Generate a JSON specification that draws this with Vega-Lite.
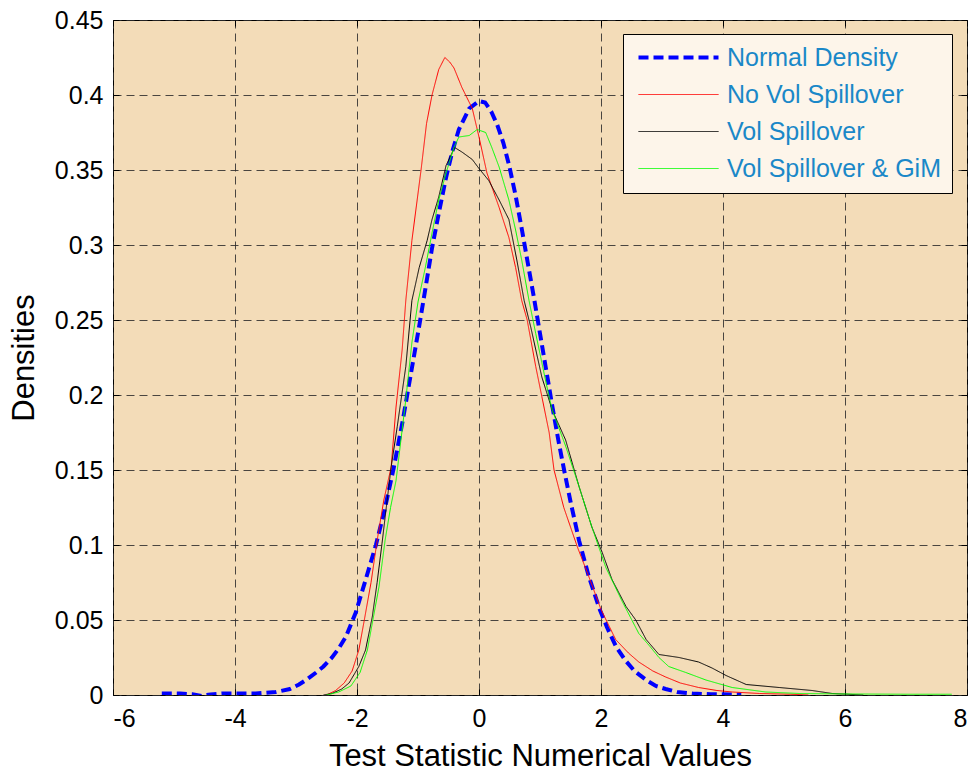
{
  "$schema": "https://vega.github.io/schema/vega-lite/v6.json",
  "width": 854,
  "height": 675,
  "autosize": {"type": "none"},
  "padding": {"left": 113, "top": 20, "right": 13, "bottom": 76},
  "background": "#ffffff",
  "title": {
    "text": "Bidirectional Truncated Hong Test Empirical Distribution (H3), S(300)",
    "fontSize": 31,
    "font": "Liberation Sans",
    "fontWeight": "normal",
    "color": "#000000",
    "anchor": "middle",
    "frame": "group",
    "baseline": "alphabetic",
    "offset": 0,
    "dy": 13,
    "zindex": 1
  },
  "config": {
    "font": "Liberation Sans",
    "view": {"fill": "#f3dcb8", "stroke": "#000000", "strokeWidth": 1},
    "axis": {
      "labelFont": "Liberation Sans",
      "labelFontSize": 25,
      "labelColor": "#000000",
      "titleFont": "Liberation Sans",
      "titleFontSize": 31,
      "titleFontWeight": "normal",
      "titleColor": "#000000",
      "domain": false,
      "tickColor": "#000000",
      "tickSize": -6,
      "grid": true,
      "gridColor": "#2a2a2a",
      "gridOpacity": 0.85,
      "gridDash": [8, 5],
      "gridWidth": 1
    }
  },
  "datasets": {
    "curves": [
      {"series": "Normal Density", "value": -5.2, "density": 0.001},
      {"series": "Normal Density", "value": -4.9, "density": 0.001},
      {"series": "Normal Density", "value": -4.7, "density": 0.0005},
      {"series": "Normal Density", "value": -4.55, "density": -0.0006},
      {"series": "Normal Density", "value": -4.4, "density": 0.0004},
      {"series": "Normal Density", "value": -4.2, "density": 0.001},
      {"series": "Normal Density", "value": -3.9, "density": 0.001},
      {"series": "Normal Density", "value": -3.66, "density": 0.001},
      {"series": "Normal Density", "value": -3.33, "density": 0.002},
      {"series": "Normal Density", "value": -3.1, "density": 0.004},
      {"series": "Normal Density", "value": -2.95, "density": 0.007},
      {"series": "Normal Density", "value": -2.8, "density": 0.011},
      {"series": "Normal Density", "value": -2.67, "density": 0.015},
      {"series": "Normal Density", "value": -2.55, "density": 0.019},
      {"series": "Normal Density", "value": -2.41, "density": 0.025},
      {"series": "Normal Density", "value": -2.3, "density": 0.031},
      {"series": "Normal Density", "value": -2.18, "density": 0.039},
      {"series": "Normal Density", "value": -2.02, "density": 0.055},
      {"series": "Normal Density", "value": -1.85, "density": 0.078},
      {"series": "Normal Density", "value": -1.69, "density": 0.1},
      {"series": "Normal Density", "value": -1.55, "density": 0.123},
      {"series": "Normal Density", "value": -1.4, "density": 0.151},
      {"series": "Normal Density", "value": -1.25, "density": 0.183},
      {"series": "Normal Density", "value": -1.1, "density": 0.218},
      {"series": "Normal Density", "value": -0.98, "density": 0.246},
      {"series": "Normal Density", "value": -0.85, "density": 0.278},
      {"series": "Normal Density", "value": -0.77, "density": 0.298},
      {"series": "Normal Density", "value": -0.66, "density": 0.321},
      {"series": "Normal Density", "value": -0.54, "density": 0.345},
      {"series": "Normal Density", "value": -0.44, "density": 0.362},
      {"series": "Normal Density", "value": -0.33, "density": 0.377},
      {"series": "Normal Density", "value": -0.16, "density": 0.391},
      {"series": "Normal Density", "value": 0.0, "density": 0.396},
      {"series": "Normal Density", "value": 0.1, "density": 0.395},
      {"series": "Normal Density", "value": 0.2, "density": 0.389},
      {"series": "Normal Density", "value": 0.3, "density": 0.38},
      {"series": "Normal Density", "value": 0.4, "density": 0.368},
      {"series": "Normal Density", "value": 0.5, "density": 0.352},
      {"series": "Normal Density", "value": 0.6, "density": 0.333},
      {"series": "Normal Density", "value": 0.7, "density": 0.311},
      {"series": "Normal Density", "value": 0.8, "density": 0.288},
      {"series": "Normal Density", "value": 0.9, "density": 0.265},
      {"series": "Normal Density", "value": 1.0, "density": 0.241},
      {"series": "Normal Density", "value": 1.1, "density": 0.217},
      {"series": "Normal Density", "value": 1.2, "density": 0.193},
      {"series": "Normal Density", "value": 1.3, "density": 0.17},
      {"series": "Normal Density", "value": 1.4, "density": 0.149},
      {"series": "Normal Density", "value": 1.5, "density": 0.129},
      {"series": "Normal Density", "value": 1.64, "density": 0.103},
      {"series": "Normal Density", "value": 1.8, "density": 0.079},
      {"series": "Normal Density", "value": 1.97, "density": 0.058},
      {"series": "Normal Density", "value": 2.1, "density": 0.045},
      {"series": "Normal Density", "value": 2.25, "density": 0.032},
      {"series": "Normal Density", "value": 2.4, "density": 0.023},
      {"series": "Normal Density", "value": 2.55, "density": 0.016},
      {"series": "Normal Density", "value": 2.74, "density": 0.01},
      {"series": "Normal Density", "value": 2.9, "density": 0.006},
      {"series": "Normal Density", "value": 3.06, "density": 0.004},
      {"series": "Normal Density", "value": 3.25, "density": 0.002},
      {"series": "Normal Density", "value": 3.5, "density": 0.001},
      {"series": "Normal Density", "value": 3.8, "density": 0.0005},
      {"series": "Normal Density", "value": 4.3, "density": 0.0003},

      {"series": "No Vol Spillover", "value": -2.5, "density": 0.0},
      {"series": "No Vol Spillover", "value": -2.35, "density": 0.003},
      {"series": "No Vol Spillover", "value": -2.21, "density": 0.008},
      {"series": "No Vol Spillover", "value": -2.08, "density": 0.016},
      {"series": "No Vol Spillover", "value": -1.97, "density": 0.03},
      {"series": "No Vol Spillover", "value": -1.88, "density": 0.05},
      {"series": "No Vol Spillover", "value": -1.77, "density": 0.075},
      {"series": "No Vol Spillover", "value": -1.67, "density": 0.103},
      {"series": "No Vol Spillover", "value": -1.56, "density": 0.13},
      {"series": "No Vol Spillover", "value": -1.44, "density": 0.152},
      {"series": "No Vol Spillover", "value": -1.36, "density": 0.192},
      {"series": "No Vol Spillover", "value": -1.26, "density": 0.23},
      {"series": "No Vol Spillover", "value": -1.2, "density": 0.263},
      {"series": "No Vol Spillover", "value": -1.1, "density": 0.303},
      {"series": "No Vol Spillover", "value": -0.95, "density": 0.35},
      {"series": "No Vol Spillover", "value": -0.86, "density": 0.381},
      {"series": "No Vol Spillover", "value": -0.77, "density": 0.4},
      {"series": "No Vol Spillover", "value": -0.66, "density": 0.417},
      {"series": "No Vol Spillover", "value": -0.56, "density": 0.425},
      {"series": "No Vol Spillover", "value": -0.48, "density": 0.422},
      {"series": "No Vol Spillover", "value": -0.41, "density": 0.418},
      {"series": "No Vol Spillover", "value": -0.28, "density": 0.405},
      {"series": "No Vol Spillover", "value": -0.11, "density": 0.391},
      {"series": "No Vol Spillover", "value": 0.0, "density": 0.372},
      {"series": "No Vol Spillover", "value": 0.13, "density": 0.348},
      {"series": "No Vol Spillover", "value": 0.33, "density": 0.325},
      {"series": "No Vol Spillover", "value": 0.49, "density": 0.305},
      {"series": "No Vol Spillover", "value": 0.6, "density": 0.285},
      {"series": "No Vol Spillover", "value": 0.7, "density": 0.263},
      {"series": "No Vol Spillover", "value": 0.79, "density": 0.25},
      {"series": "No Vol Spillover", "value": 0.93, "density": 0.219},
      {"series": "No Vol Spillover", "value": 1.03, "density": 0.199},
      {"series": "No Vol Spillover", "value": 1.15, "density": 0.175},
      {"series": "No Vol Spillover", "value": 1.23, "density": 0.15},
      {"series": "No Vol Spillover", "value": 1.39, "density": 0.125},
      {"series": "No Vol Spillover", "value": 1.61, "density": 0.099},
      {"series": "No Vol Spillover", "value": 1.8, "density": 0.079},
      {"series": "No Vol Spillover", "value": 2.0, "density": 0.057},
      {"series": "No Vol Spillover", "value": 2.24, "density": 0.037},
      {"series": "No Vol Spillover", "value": 2.45, "density": 0.028},
      {"series": "No Vol Spillover", "value": 2.62, "density": 0.022},
      {"series": "No Vol Spillover", "value": 2.85, "density": 0.016},
      {"series": "No Vol Spillover", "value": 3.06, "density": 0.012},
      {"series": "No Vol Spillover", "value": 3.3, "density": 0.008},
      {"series": "No Vol Spillover", "value": 3.6, "density": 0.005},
      {"series": "No Vol Spillover", "value": 3.9, "density": 0.003},
      {"series": "No Vol Spillover", "value": 4.15, "density": 0.002},
      {"series": "No Vol Spillover", "value": 4.6, "density": 0.001},
      {"series": "No Vol Spillover", "value": 5.1, "density": 0.0005},
      {"series": "No Vol Spillover", "value": 5.4, "density": 0.0},

      {"series": "Vol Spillover", "value": -2.55, "density": 0.0},
      {"series": "Vol Spillover", "value": -2.41, "density": 0.001},
      {"series": "Vol Spillover", "value": -2.25, "density": 0.004},
      {"series": "Vol Spillover", "value": -2.13, "density": 0.008},
      {"series": "Vol Spillover", "value": -1.97, "density": 0.019},
      {"series": "Vol Spillover", "value": -1.86, "density": 0.03},
      {"series": "Vol Spillover", "value": -1.75, "density": 0.052},
      {"series": "Vol Spillover", "value": -1.67, "density": 0.075},
      {"series": "Vol Spillover", "value": -1.59, "density": 0.101},
      {"series": "Vol Spillover", "value": -1.52, "density": 0.125},
      {"series": "Vol Spillover", "value": -1.44, "density": 0.152},
      {"series": "Vol Spillover", "value": -1.34, "density": 0.179},
      {"series": "Vol Spillover", "value": -1.2, "density": 0.219},
      {"series": "Vol Spillover", "value": -1.1, "density": 0.263},
      {"series": "Vol Spillover", "value": -0.98, "density": 0.285},
      {"series": "Vol Spillover", "value": -0.85, "density": 0.303},
      {"series": "Vol Spillover", "value": -0.77, "density": 0.317},
      {"series": "Vol Spillover", "value": -0.66, "density": 0.332},
      {"series": "Vol Spillover", "value": -0.54, "density": 0.353},
      {"series": "Vol Spillover", "value": -0.4, "density": 0.365},
      {"series": "Vol Spillover", "value": -0.28, "density": 0.362},
      {"series": "Vol Spillover", "value": -0.11, "density": 0.357},
      {"series": "Vol Spillover", "value": 0.0, "density": 0.351},
      {"series": "Vol Spillover", "value": 0.16, "density": 0.343},
      {"series": "Vol Spillover", "value": 0.33, "density": 0.33},
      {"series": "Vol Spillover", "value": 0.49, "density": 0.317},
      {"series": "Vol Spillover", "value": 0.62, "density": 0.29},
      {"series": "Vol Spillover", "value": 0.74, "density": 0.263},
      {"series": "Vol Spillover", "value": 0.85, "density": 0.245},
      {"series": "Vol Spillover", "value": 1.03, "density": 0.212},
      {"series": "Vol Spillover", "value": 1.2, "density": 0.19},
      {"series": "Vol Spillover", "value": 1.42, "density": 0.17},
      {"series": "Vol Spillover", "value": 1.64, "density": 0.139},
      {"series": "Vol Spillover", "value": 1.85, "density": 0.112},
      {"series": "Vol Spillover", "value": 2.02, "density": 0.095},
      {"series": "Vol Spillover", "value": 2.18, "density": 0.077},
      {"series": "Vol Spillover", "value": 2.41, "density": 0.059},
      {"series": "Vol Spillover", "value": 2.57, "density": 0.05},
      {"series": "Vol Spillover", "value": 2.74, "density": 0.037},
      {"series": "Vol Spillover", "value": 2.95, "density": 0.027},
      {"series": "Vol Spillover", "value": 3.28, "density": 0.025},
      {"series": "Vol Spillover", "value": 3.6, "density": 0.022},
      {"series": "Vol Spillover", "value": 3.82, "density": 0.018},
      {"series": "Vol Spillover", "value": 4.05, "density": 0.013},
      {"series": "Vol Spillover", "value": 4.38, "density": 0.007},
      {"series": "Vol Spillover", "value": 4.92, "density": 0.005},
      {"series": "Vol Spillover", "value": 5.46, "density": 0.003},
      {"series": "Vol Spillover", "value": 5.79, "density": 0.001},
      {"series": "Vol Spillover", "value": 6.3, "density": 0.0},

      {"series": "Vol Spillover & GiM", "value": -2.5, "density": 0.0},
      {"series": "Vol Spillover & GiM", "value": -2.3, "density": 0.002},
      {"series": "Vol Spillover & GiM", "value": -2.1, "density": 0.006},
      {"series": "Vol Spillover & GiM", "value": -1.95, "density": 0.015},
      {"series": "Vol Spillover & GiM", "value": -1.83, "density": 0.03},
      {"series": "Vol Spillover & GiM", "value": -1.74, "density": 0.05},
      {"series": "Vol Spillover & GiM", "value": -1.64, "density": 0.072},
      {"series": "Vol Spillover & GiM", "value": -1.54, "density": 0.103},
      {"series": "Vol Spillover & GiM", "value": -1.45, "density": 0.125},
      {"series": "Vol Spillover & GiM", "value": -1.36, "density": 0.143},
      {"series": "Vol Spillover & GiM", "value": -1.28, "density": 0.17},
      {"series": "Vol Spillover & GiM", "value": -1.2, "density": 0.197},
      {"series": "Vol Spillover & GiM", "value": -1.1, "density": 0.235},
      {"series": "Vol Spillover & GiM", "value": -1.0, "density": 0.262},
      {"series": "Vol Spillover & GiM", "value": -0.88, "density": 0.285},
      {"series": "Vol Spillover & GiM", "value": -0.77, "density": 0.308},
      {"series": "Vol Spillover & GiM", "value": -0.66, "density": 0.33},
      {"series": "Vol Spillover & GiM", "value": -0.54, "density": 0.348},
      {"series": "Vol Spillover & GiM", "value": -0.41, "density": 0.365},
      {"series": "Vol Spillover & GiM", "value": -0.33, "density": 0.372},
      {"series": "Vol Spillover & GiM", "value": -0.16, "density": 0.373},
      {"series": "Vol Spillover & GiM", "value": -0.03, "density": 0.377},
      {"series": "Vol Spillover & GiM", "value": 0.11, "density": 0.375},
      {"series": "Vol Spillover & GiM", "value": 0.21, "density": 0.365},
      {"series": "Vol Spillover & GiM", "value": 0.33, "density": 0.352},
      {"series": "Vol Spillover & GiM", "value": 0.49, "density": 0.33},
      {"series": "Vol Spillover & GiM", "value": 0.6, "density": 0.31},
      {"series": "Vol Spillover & GiM", "value": 0.7, "density": 0.29},
      {"series": "Vol Spillover & GiM", "value": 0.82, "density": 0.263},
      {"series": "Vol Spillover & GiM", "value": 0.93, "density": 0.241},
      {"series": "Vol Spillover & GiM", "value": 1.1, "density": 0.208},
      {"series": "Vol Spillover & GiM", "value": 1.2, "density": 0.19},
      {"series": "Vol Spillover & GiM", "value": 1.42, "density": 0.166},
      {"series": "Vol Spillover & GiM", "value": 1.64, "density": 0.139},
      {"series": "Vol Spillover & GiM", "value": 1.85, "density": 0.112},
      {"series": "Vol Spillover & GiM", "value": 2.08, "density": 0.085},
      {"series": "Vol Spillover & GiM", "value": 2.34, "density": 0.063},
      {"series": "Vol Spillover & GiM", "value": 2.62, "density": 0.041},
      {"series": "Vol Spillover & GiM", "value": 2.79, "density": 0.033},
      {"series": "Vol Spillover & GiM", "value": 2.95, "density": 0.025},
      {"series": "Vol Spillover & GiM", "value": 3.11, "density": 0.019},
      {"series": "Vol Spillover & GiM", "value": 3.39, "density": 0.015},
      {"series": "Vol Spillover & GiM", "value": 3.72, "density": 0.01},
      {"series": "Vol Spillover & GiM", "value": 4.15, "density": 0.005},
      {"series": "Vol Spillover & GiM", "value": 4.7, "density": 0.002},
      {"series": "Vol Spillover & GiM", "value": 5.25, "density": 0.001},
      {"series": "Vol Spillover & GiM", "value": 6.0, "density": 0.0007},
      {"series": "Vol Spillover & GiM", "value": 7.0, "density": 0.0005},
      {"series": "Vol Spillover & GiM", "value": 7.75, "density": 0.0005}
    ]
  },
  "data": {"name": "curves"},
  "layer": [
    {
      "mark": {"type": "line", "clip": true},
      "encoding": {
        "x": {
          "field": "value",
          "type": "quantitative",
          "scale": {"domain": [-6, 8], "nice": false, "zero": false},
          "axis": {
            "title": "Test Statistic Numerical Values",
            "values": [-6, -4, -2, 0, 2, 4, 6, 8],
            "labelExpr": "replace(datum.label, '−', '-')",
            "labelPadding": 17,
            "titlePadding": 10
          }
        },
        "y": {
          "field": "density",
          "type": "quantitative",
          "scale": {"domain": [0, 0.45], "nice": false},
          "axis": {
            "title": "Densities",
            "values": [0, 0.05, 0.1, 0.15, 0.2, 0.25, 0.3, 0.35, 0.4, 0.45],
            "labelExpr": "'' + datum.value",
            "labelPadding": 16,
            "titlePadding": 14
          }
        },
        "color": {
          "field": "series",
          "type": "nominal",
          "scale": {
            "domain": ["Normal Density", "No Vol Spillover", "Vol Spillover", "Vol Spillover & GiM"],
            "range": ["#0000ff", "#ff0000", "#000000", "#00ff00"]
          },
          "legend": {
            "title": null,
            "orient": "none",
            "legendX": 510,
            "legendY": 14,
            "fillColor": "#fdf5ea",
            "strokeColor": "#000000",
            "padding": 11,
            "labelFont": "Liberation Sans",
            "labelFontSize": 25,
            "labelColor": "#1a88c8",
            "labelLimit": 400,
            "labelOffset": 66,
            "symbolType": "M-1,0H7",
            "symbolSize": 400,
            "symbolOffset": 2,
            "rowPadding": 11,
            "encode": {
              "symbols": {
                "update": {
                  "strokeWidth": {"signal": "datum.value === 'Normal Density' ? 4 : 1"}
                }
              }
            }
          }
        },
        "strokeDash": {
          "field": "series",
          "type": "nominal",
          "scale": {
            "domain": ["Normal Density", "No Vol Spillover", "Vol Spillover", "Vol Spillover & GiM"],
            "range": [[10, 5], [1, 0], [1, 0], [1, 0]]
          },
          "legend": {"title": null}
        },
        "strokeWidth": {
          "condition": {"test": "datum.series === 'Normal Density'", "value": 4},
          "value": 1
        }
      }
    },
    {
      "mark": {"type": "line", "opacity": 0},
      "encoding": {
        "x": {
          "field": "value",
          "type": "quantitative",
          "axis": {"orient": "top", "labels": false, "title": null, "grid": false, "values": [-6, -4, -2, 0, 2, 4, 6, 8]}
        },
        "y": {
          "field": "density",
          "type": "quantitative",
          "axis": {"orient": "right", "labels": false, "title": null, "grid": false, "values": [0, 0.05, 0.1, 0.15, 0.2, 0.25, 0.3, 0.35, 0.4, 0.45]}
        }
      }
    }
  ],
  "resolve": {"axis": {"x": "independent", "y": "independent"}}
}
